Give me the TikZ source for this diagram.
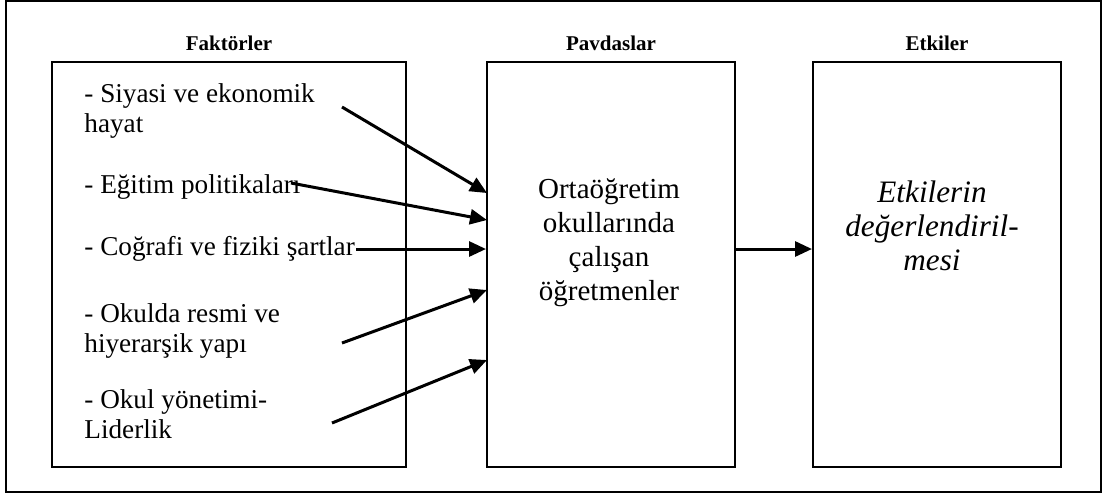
\documentclass[tikz,border=0pt]{standalone}
\usepackage{fontspec}
\setmainfont{Liberation Serif}
\usetikzlibrary{arrows.meta}

\begin{document}
\begin{tikzpicture}[x=0.5pt,y=-0.5pt,
  box/.style={draw,line width=1pt,inner sep=0pt,minimum height=202.5pt},
  title/.style={anchor=base,inner sep=0pt,font=\fontsize{10.5}{12}\selectfont\bfseries},
  item/.style={anchor=base west,align=left,inner sep=0pt,font=\fontsize{13.6}{15}\selectfont},
  arr/.style={-{Triangle[length=8.5pt,width=7.5pt]},line width=1.5pt}]
\useasboundingbox (0,0) rectangle (1103,495);
\node [draw,line width=0.8pt,inner sep=0pt,minimum width=547.5pt,minimum height=245.5pt] (frame) at (553.5,246.5) {};

\node [box,minimum width=177pt] (fak) at (229,264.5) {};
\node [box,minimum width=124pt] (pay) at (611,264.5) {};
\node [box,minimum width=124pt] (etk) at (937,264.5) {};

\node [title] (tf) at (229,50) {Faktörler};
\node [title] (tp) at (611,50) {Pavdaslar};
\node [title] (te) at (937,50) {Etkiler};

% last line of each node sits on the given baseline
\node [item] (f1) at (84,132) {- Siyasi ve ekonomik\\hayat};
\node [item] (f2) at (84,193) {- Eğitim politikaları};
\node [item] (f3) at (84,255) {- Coğrafi ve fiziki şartlar};
\node [item] (f4) at (84,352) {- Okulda resmi ve\\hiyerarşik yapı};
\node [item] (f5) at (84,438) {- Okul yönetimi-\\Liderlik};

\node [anchor=base,align=center,inner sep=0pt,font=\fontsize{14.5}{17}\selectfont] (ogr) at (609,300)
  {Ortaöğretim\\okullarında\\çalışan\\öğretmenler};
\node [anchor=base,align=center,inner sep=0pt,font=\fontsize{15.6}{17}\selectfont\itshape] (deg) at (932,270)
  {Etkilerin\\değerlendiril-\\mesi};

\coordinate (s1) at (342,107);
\coordinate (s2) at (291,183);
\coordinate (s3) at (356,249);
\coordinate (s4) at (342,343);
\coordinate (s5) at (332,423);
\coordinate (e1) at (487,193);
\coordinate (e2) at (487,220);
\coordinate (e4) at (487,290);
\coordinate (e5) at (487,360);

\draw [arr] (s1) -- (e1);
\draw [arr] (s2) -- (e2);
\draw [arr] (s3) -- (s3 -| pay.west);
\draw [arr] (s4) -- (e4);
\draw [arr] (s5) -- (e5);
\draw [arr] (pay.east |- s3) -- (etk.west |- s3);
\end{tikzpicture}
\end{document}
